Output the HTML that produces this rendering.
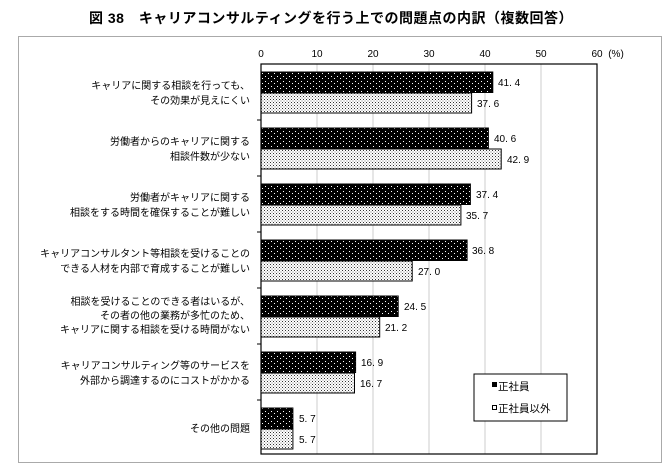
<!DOCTYPE html>
<html><head><meta charset="utf-8"><style>
body{margin:0;background:#fff;}
svg text{font-family:"Liberation Sans","Noto Sans CJK JP",sans-serif;}
</style></head><body>
<svg width="663" height="468" xmlns="http://www.w3.org/2000/svg">
<defs>
<pattern id="pb" width="6" height="5" patternUnits="userSpaceOnUse">
<rect width="6" height="5" fill="#000"/><rect x="1" y="1" width="1" height="1" fill="#fff"/><rect x="4" y="3" width="1" height="1" fill="#fff"/>
</pattern>
<pattern id="pw" width="3" height="3" patternUnits="userSpaceOnUse">
<rect width="3" height="3" fill="#fff"/><rect x="0" y="0" width="1" height="1" fill="#333"/><rect x="1.5" y="1.5" width="1" height="1" fill="#777"/>
</pattern>
</defs>
<text x="331" y="23" text-anchor="middle" font-size="14" font-weight="bold" fill="#000" letter-spacing="0.5">図 38　キャリアコンサルティングを行う上での問題点の内訳（複数回答）</text>
<rect x="18.5" y="36.5" width="643" height="426" fill="none" stroke="#aaa" stroke-width="1"/>
<g stroke="#ccc" stroke-width="1">
<line x1="317" y1="64" x2="317" y2="454"/><line x1="373" y1="64" x2="373" y2="454"/><line x1="429" y1="64" x2="429" y2="454"/><line x1="485" y1="64" x2="485" y2="454"/><line x1="541" y1="64" x2="541" y2="454"/>
</g>
<rect x="261" y="64" width="336" height="390" fill="none" stroke="#000" stroke-width="1.2"/>
<g font-size="10" fill="#000" text-anchor="middle">
<text x="261" y="57">0</text><text x="317" y="57">10</text><text x="373" y="57">20</text><text x="429" y="57">30</text><text x="485" y="57">40</text><text x="541" y="57">50</text><text x="597" y="57">60</text><text x="616" y="57">(%)</text>
</g>
<g stroke="#000"><line x1="257" y1="120" x2="261" y2="120"/><line x1="257" y1="176" x2="261" y2="176"/><line x1="257" y1="232" x2="261" y2="232"/><line x1="257" y1="288" x2="261" y2="288"/><line x1="257" y1="344" x2="261" y2="344"/><line x1="257" y1="400" x2="261" y2="400"/></g>
<g stroke="#000" stroke-width="1">
<rect x="261" y="72" width="231.8" height="20.5" fill="url(#pb)"/><rect x="261" y="93" width="210.6" height="20" fill="url(#pw)"/>
<rect x="261" y="128" width="227.4" height="20.5" fill="url(#pb)"/><rect x="261" y="149" width="240.2" height="20" fill="url(#pw)"/>
<rect x="261" y="184" width="209.4" height="20.5" fill="url(#pb)"/><rect x="261" y="205" width="199.9" height="20" fill="url(#pw)"/>
<rect x="261" y="240" width="206.1" height="20.5" fill="url(#pb)"/><rect x="261" y="261" width="151.2" height="20" fill="url(#pw)"/>
<rect x="261" y="296" width="137.2" height="20.5" fill="url(#pb)"/><rect x="261" y="317" width="118.7" height="20" fill="url(#pw)"/>
<rect x="261" y="352" width="94.6" height="20.5" fill="url(#pb)"/><rect x="261" y="373" width="93.5" height="20" fill="url(#pw)"/>
<rect x="261" y="408" width="31.9" height="20.5" fill="url(#pb)"/><rect x="261" y="429" width="31.9" height="20" fill="url(#pw)"/>
</g>
<g font-size="10" fill="#000">
<text x="498" y="86">41. 4</text><text x="477" y="107">37. 6</text>
<text x="494" y="142">40. 6</text><text x="507" y="163">42. 9</text>
<text x="476" y="198">37. 4</text><text x="466" y="219">35. 7</text>
<text x="472" y="254">36. 8</text><text x="418" y="275">27. 0</text>
<text x="404" y="310">24. 5</text><text x="385" y="331">21. 2</text>
<text x="361" y="366">16. 9</text><text x="360" y="387">16. 7</text>
<text x="299" y="422">5. 7</text><text x="299" y="443">5. 7</text>
</g>
<g font-size="10" fill="#000" text-anchor="end">
<text x="250" y="89">キャリアに関する相談を行っても、</text><text x="250" y="104">その効果が見えにくい</text>
<text x="250" y="145">労働者からのキャリアに関する</text><text x="250" y="160">相談件数が少ない</text>
<text x="250" y="201">労働者がキャリアに関する</text><text x="250" y="216">相談をする時間を確保することが難しい</text>
<text x="250" y="257">キャリアコンサルタント等相談を受けることの</text><text x="250" y="272">できる人材を内部で育成することが難しい</text>
<text x="250" y="305">相談を受けることのできる者はいるが、</text><text x="250" y="319">その者の他の業務が多忙のため、</text><text x="250" y="333">キャリアに関する相談を受ける時間がない</text>
<text x="250" y="369">キャリアコンサルティング等のサービスを</text><text x="250" y="384">外部から調達するのにコストがかかる</text>
<text x="250" y="432">その他の問題</text>
</g>
<rect x="474" y="374" width="93" height="47" fill="#fff" stroke="#000" stroke-width="1"/>
<rect x="492" y="382" width="5" height="5" fill="#000"/>
<text x="498" y="390" font-size="10.5">正社員</text>
<rect x="492.5" y="405.5" width="4" height="4" fill="#fff" stroke="#000"/>
<text x="498" y="412" font-size="10.5">正社員以外</text>
</svg>
</body></html>
